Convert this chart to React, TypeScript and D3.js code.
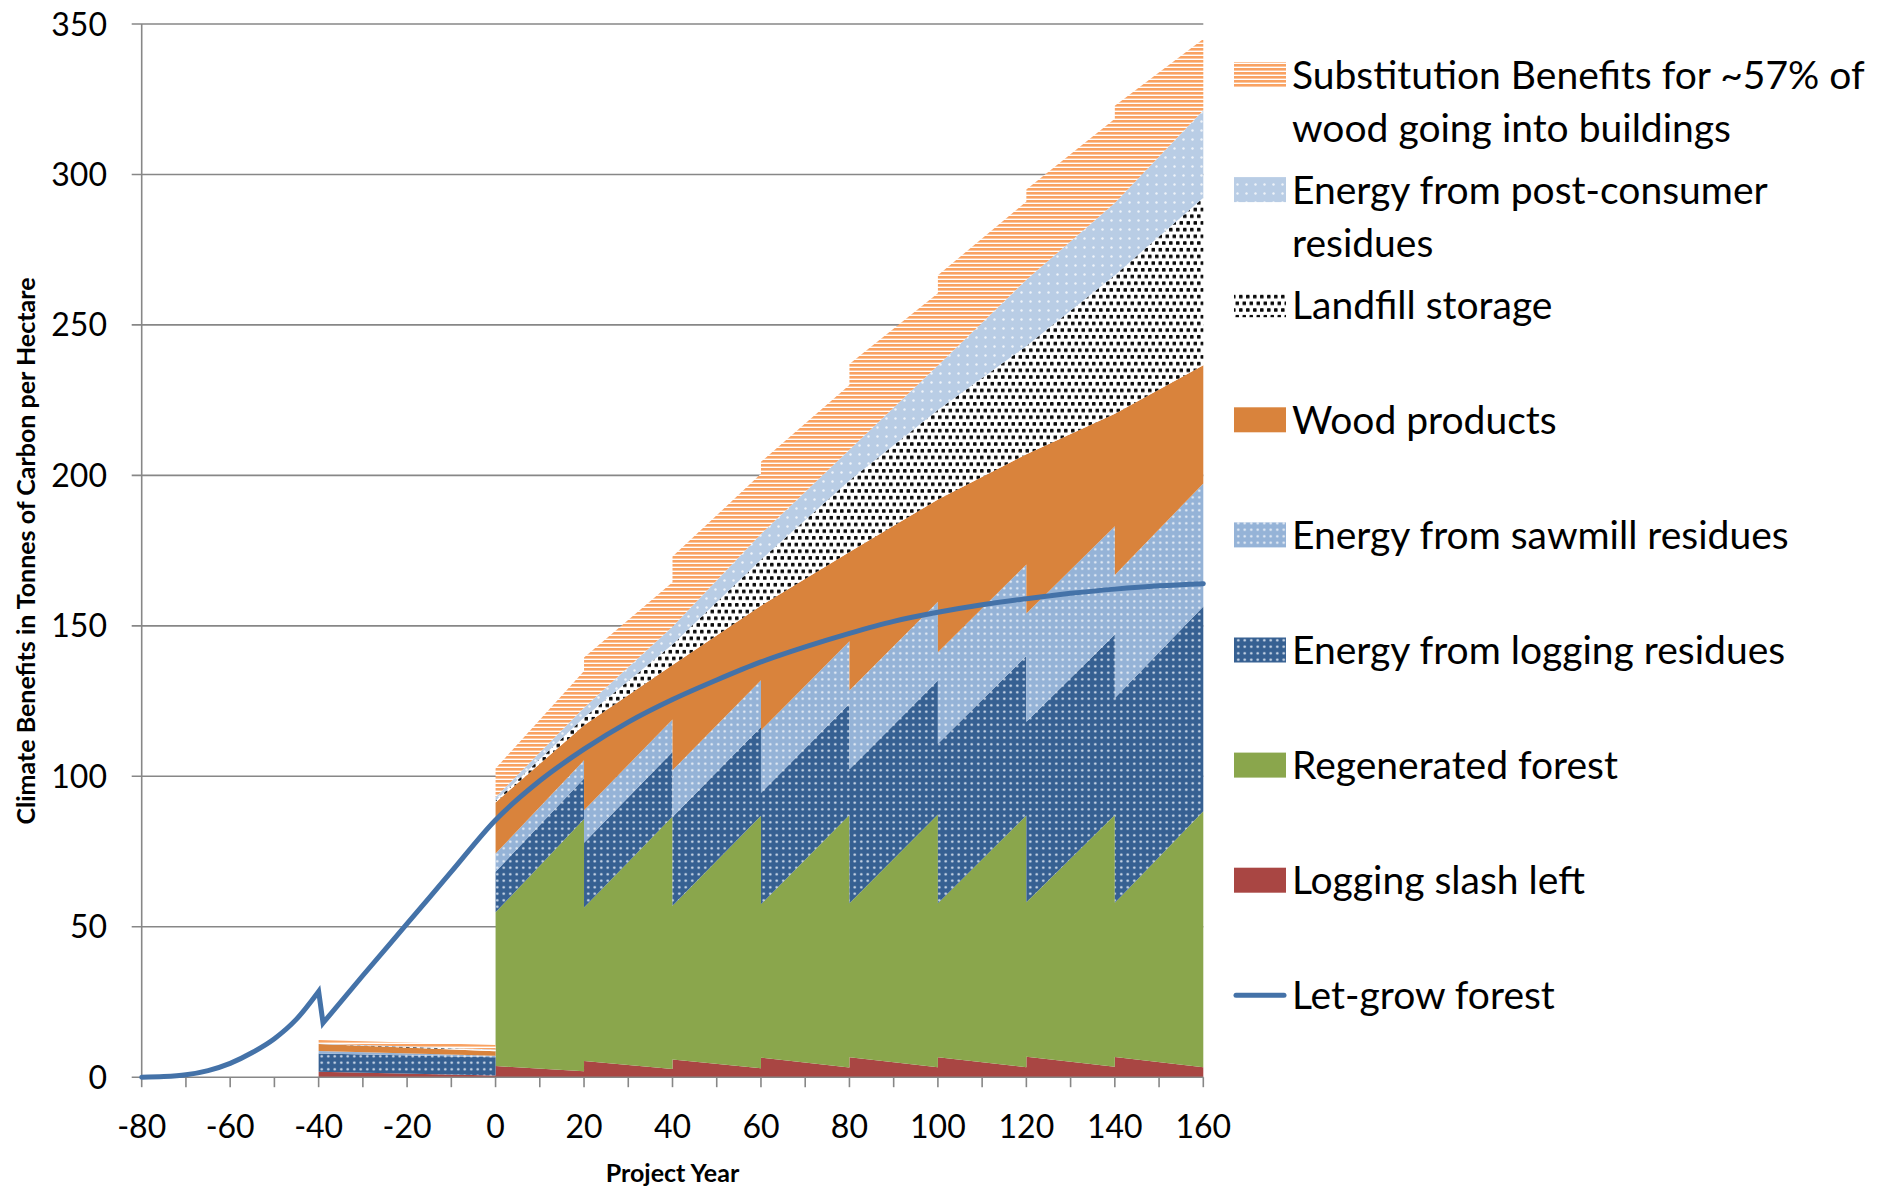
import React from 'react';
import * as d3 from 'd3';

// harvest every 20 years -> each year from 0 on appears twice (just before / just after the cut)
const years = [-40, 0, 0, 20, 20, 40, 40, 60, 60, 80, 80, 100, 100, 120, 120, 140, 140, 160];

const slashLeft = [1.8, 0.6, 3.7, 2.0, 5.4, 2.7, 5.9, 3.0, 6.5, 3.2, 6.6, 3.3, 6.6, 3.3, 6.8, 3.5, 6.7, 3.3];
const regenerated = [0, 0, 51.1, 83.8, 51.0, 83.9, 51.1, 83.9, 51.0, 83.9, 51.2, 84.0, 51.2, 83.7, 51.3, 83.6, 51.3, 85.1];
const loggingResidues = [6.1, 6.0, 13.5, 13.5, 21.5, 21.5, 29.5, 29.5, 37, 37, 44.5, 44.5, 53, 53, 60, 60, 68, 68];
const sawmillResidues = [0.8, 0.5, 6, 6, 10.8, 10.8, 15.5, 15.5, 20.8, 20.8, 26.2, 26.2, 30.4, 30.4, 36, 36, 40.9, 40.9];
const woodProducts = [2.3, 1.5, 17.0, 11.7, 28.3, 18.1, 35, 24.8, 41.4, 29.6, 46, 34, 50.8, 36.6, 52.9, 37.4, 53.6, 39.3];
const landfill = [0, 0.4, 0.6, 2.5, 2.5, 6.8, 6.8, 15.3, 15.3, 23.8, 23.8, 29.7, 29.7, 36, 36, 46, 46, 55.7];
const postConsumer = [0.2, 0.2, 1.1, 3.3, 3.3, 5.9, 5.9, 8.5, 8.5, 10.2, 10.2, 14.8, 14.8, 22, 22, 24, 24, 29];
const substitution = [1.2, 1.5, 9.6, 12.2, 16.7, 14.8, 23.3, 20, 24, 21.5, 28.5, 24, 30, 26, 30, 28, 32.3, 23.7];

// let-grow forest: thinning at year -40
const lineYears = [-80, -75, -70, -65, -60, -55, -50, -45, -40, -39, -30, -20, -10, 0, 10, 20, 30, 40, 50, 60, 70, 80, 90, 100, 110, 120, 130, 140, 150, 160];
const letGrow = [0, 0.2, 0.8, 2.2, 4.6, 8.2, 12.8, 19.3, 28.5, 18, 33.8, 51, 68.3, 85.5, 98.5, 109, 118, 125.5, 132, 138, 143, 147.5, 151.5, 154.5, 157, 159, 160.8, 162.2, 163.3, 164];
const thinYear = -40;

const xTicks = [-80, -60, -40, -20, 0, 20, 40, 60, 80, 100, 120, 140, 160];
const xMinorTicks = d3.range(-80, 161, 10);
const yTicks = [0, 50, 100, 150, 200, 250, 300, 350];

const layers = [
  { key: 'slash', values: slashLeft, fill: '#A94643' },
  { key: 'regen', values: regenerated, fill: '#8AA64C' },
  { key: 'logging', values: loggingResidues, fill: 'url(#p-log)' },
  { key: 'sawmill', values: sawmillResidues, fill: 'url(#p-saw)' },
  { key: 'wood', values: woodProducts, fill: '#D9833C' },
  { key: 'landfill', values: landfill, fill: 'url(#p-land)' },
  { key: 'post', values: postConsumer, fill: 'url(#p-post)' },
  { key: 'subst', values: substitution, fill: 'url(#p-subst)' },
];

// legend, top to bottom
const legendItems = [
  { lines: ['Substitution Benefits for ~57% of', 'wood going into buildings'], fill: 'url(#p-subst)' },
  { lines: ['Energy from post-consumer', 'residues'], fill: 'url(#p-post)' },
  { lines: ['Landfill storage'], fill: 'url(#p-land)' },
  { lines: ['Wood products'], fill: '#D9833C' },
  { lines: ['Energy from sawmill residues'], fill: 'url(#p-saw)' },
  { lines: ['Energy from logging residues'], fill: 'url(#p-log)' },
  { lines: ['Regenerated forest'], fill: '#8AA64C' },
  { lines: ['Logging slash left'], fill: '#A94643' },
  { lines: ['Let-grow forest'], line: '#4472A8' },
];

const W = 1883;
const H = 1186;
const FONT = 'Lato, "Open Sans", sans-serif';
const GRID = '#878787';

export default function App() {
  const x = d3.scaleLinear().domain([-80, 160]).range([141.7, 1203.3]);
  const y = d3.scaleLinear().domain([0, 350]).range([1077.2, 24]);

  const rows = years.map((yr, i) => {
    const r: any = { year: yr };
    layers.forEach(l => { r[l.key] = l.values[i]; });
    return r;
  });
  const stacked = d3.stack().keys(layers.map(l => l.key))(rows);

  const area = d3.area<any>()
    .x(d => x(d.data.year))
    .y0(d => y(d[0]))
    .y1(d => y(d[1]));

  // smooth before and after the thinning, sharp drop at the thinning itself
  const pts: [number, number][] = lineYears.map((yr, i) => [x(yr), y(letGrow[i])]);
  const cut = lineYears.indexOf(thinYear);
  const smooth = d3.line().curve(d3.curveMonotoneX);
  const before = smooth(pts.slice(0, cut + 1)) || '';
  const after = (smooth(pts.slice(cut + 1)) || '').replace(/^M/, 'L');
  const lineD = before + after;

  const legendX = 1234;
  const legendTop = 74.5;
  const legendStep = 115.1;

  return (
    <svg width={W} height={H} style={{ position: 'absolute', left: 0, top: 0, background: '#fff' }}
      fontFamily={FONT}>
      <defs>
        <pattern id="p-subst" patternUnits="userSpaceOnUse" width={8} height={4}>
          <rect width={8} height={4} fill="#fff" />
          <rect width={8} height={2.6} fill="#F9A262" />
        </pattern>
        <pattern id="p-post" patternUnits="userSpaceOnUse" width={9} height={9}>
          <rect width={9} height={9} fill="#B9CDE5" />
          <circle cx={4.5} cy={4.5} r={1.2} fill="#EEF3F9" />
        </pattern>
        <pattern id="p-saw" patternUnits="userSpaceOnUse" width={6.5} height={6.5}>
          <rect width={6.5} height={6.5} fill="#95B3D7" />
          <circle cx={3.25} cy={3.25} r={1.2} fill="#EAF0F7" />
        </pattern>
        <pattern id="p-log" patternUnits="userSpaceOnUse" width={6.5} height={6.5}>
          <rect width={6.5} height={6.5} fill="#366092" />
          <circle cx={3.25} cy={3.25} r={1.25} fill="#D6E1EE" />
        </pattern>
        <pattern id="p-land" patternUnits="userSpaceOnUse" width={7} height={13.4}>
          <rect width={7} height={13.4} fill="#fff" />
          <rect x={0} y={0} width={3.6} height={3.6} rx={0.8} fill="#0a0a0a" />
          <rect x={3.5} y={6.7} width={3.6} height={3.6} rx={0.8} fill="#0a0a0a" />
        </pattern>
      </defs>

      {/* gridlines */}
      {yTicks.filter(t => t > 0).map(t => (
        <line key={t} x1={x(-80) - 10} x2={x(160)} y1={y(t)} y2={y(t)} stroke={GRID} strokeWidth={1.6} />
      ))}

      {/* stacked areas */}
      {stacked.map((s, i) => (
        <path key={s.key} d={area(s) || ''} fill={layers[i].fill} />
      ))}

      {/* axes */}
      <line x1={x(-80)} x2={x(-80)} y1={y(350)} y2={y(0)} stroke={GRID} strokeWidth={1.6} />
      <line x1={x(-80) - 10} x2={x(160)} y1={y(0)} y2={y(0)} stroke={GRID} strokeWidth={1.6} />
      {xMinorTicks.map(t => (
        <line key={t} x1={x(t)} x2={x(t)} y1={y(0)} y2={y(0) + 10} stroke={GRID} strokeWidth={1.6} />
      ))}
      {yTicks.map(t => (
        <text key={t} x={107} y={y(t) + 11.5} textAnchor="end" fontSize={32} fill="#000">{t}</text>
      ))}
      {xTicks.map(t => (
        <text key={t} x={x(t)} y={1138} textAnchor="middle" fontSize={32} fill="#000">{t}</text>
      ))}

      {/* let-grow forest */}
      <path d={lineD} fill="none" stroke="#4472A8" strokeWidth={5} strokeLinejoin="miter" strokeLinecap="round" />

      {/* axis titles */}
      <text x={672.5} y={1182} textAnchor="middle" fontSize={25} fontWeight="bold">Project Year</text>
      <text transform={`translate(35, 551) rotate(-90)`} textAnchor="middle" fontSize={25} fontWeight="bold">
        Climate Benefits in Tonnes of Carbon per Hectare
      </text>

      {/* legend */}
      {legendItems.map((item, i) => {
        const cy = legendTop + i * legendStep;
        return (
          <g key={i}>
            {item.line ? (
              <line x1={legendX + 2} x2={legendX + 50} y1={cy} y2={cy} stroke={item.line} strokeWidth={5} strokeLinecap="round" />
            ) : (
              <rect x={legendX} y={cy - 12.5} width={52} height={25} fill={item.fill} />
            )}
            {item.lines.map((t, j) => (
              <text key={j} x={1292} y={cy + 14 + j * 53} fontSize={39} fill="#000">{t}</text>
            ))}
          </g>
        );
      })}
    </svg>
  );
}
